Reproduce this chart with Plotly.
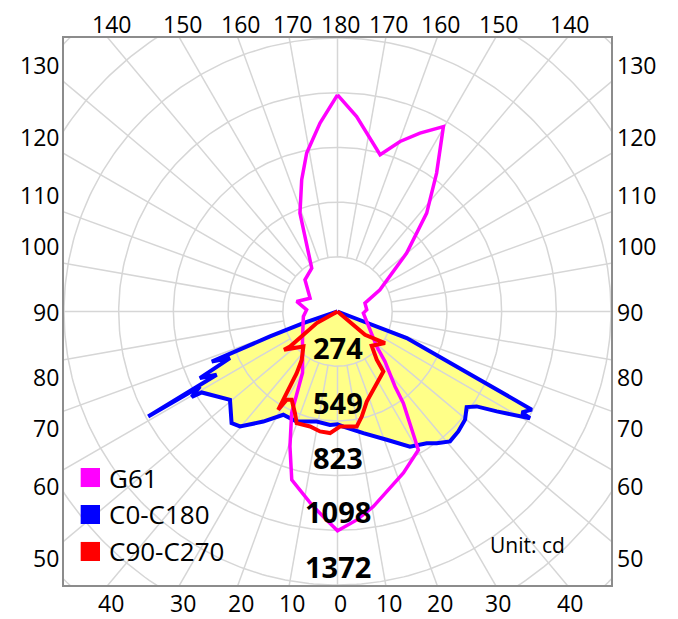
import numpy as np
import plotly.graph_objects as go

# Values.
# gamma angle in degrees: 0 = straight down, 180 = straight up, negative = left half
# intensity in cd
g61_deg = [-180, -174.7, -169.0, -164.8, -159.1, -154.6, -149.3, -134.3, -116, -103.8, -93.2,
           -81.7, -62.4, -51, -38.9, -29.7, -24.3, -19.4, -15.2, -7.1, 0,
           5.3, 10.4, 22.2, 30.3, 32.1, 35.7, 37.5, 43.5, 48.2, 60.6, 86.5, 93.3, 107, 117,
           130.2, 137.8, 144.4, 150.2, 155.2, 159.8, 164.8, 174.4, 180]
g61_cd = [1087, 949, 810, 685, 528, 361, 253, 228, 153, 211, 155,
          173, 198, 226, 279, 354, 559, 718, 875, 986, 1100,
          1050, 995, 875, 804, 701, 566, 474, 346, 264, 187, 130, 147, 144, 239,
          454, 666, 854, 1069, 986, 909, 815, 983, 1087]

c0c180_deg = [-90, -71.3, -69.7, -68.6, -68.3, -66.6, -64.2, -62.4, -61.0, -61.4, -59.6, -59.2,
              -50.6, -43.5, -40.3, -34.0, -30.1, -27.7, -20.4, -10.7, -3.8, 0,
              2.9, 12.0, 21.0, 28.2, 34.1, 37.0, 40.9, 45.2, 49.7, 53.5, 55.7, 57.9,
              61.0, 61.3, 63.2, 69.0, 90]
c0c180_cd = [0, 181, 361, 526, 679, 588, 767, 684, 1086, 786, 848, 793,
             698, 772, 756, 666, 609, 585, 589, 562, 570, 566,
             578, 624, 689, 769, 798, 827, 862, 854, 839, 806, 845, 943,
             1104, 1054, 1092, 372, 0]

c90c270_deg = [-90, -60.9, -53.6, -54.4, -44.3, -36.5, -33.5, -32.1, -31.1, -29.9, -27.4,
               -22.7, -20.1, -13.4, -8.3, -3.5, 1.2, 9.5, 13.0, 18.0, 24.6, 32.9, 37.4,
               39.1, 44.9, 56.4, 49.7, 90]
c90c270_cd = [0, 119, 296, 330, 245, 302, 371, 464, 576, 511, 499,
              553, 596, 593, 608, 611, 577, 585, 541, 475, 432, 392, 379,
              312, 243, 286, 181, 0]

ring_cd = [274, 549, 823, 1098, 1372]
top_ticks = [140, 150, 160, 170, 180, 170, 160, 150, 140]
bottom_ticks = [40, 30, 20, 10, 0, 10, 20, 30, 40]
side_ticks = [130, 120, 110, 100, 90, 80, 70, 60, 50]
legend_names = ["G61", "C0-C180", "C90-C270"]
legend_colors = ["#ff00ff", "#0000ff", "#ff0000"]

R = 1372            # frame half width in cd
STEP = R / 5        # ring spacing
GRID = "#d6d6d6"
FONT = "Open Sans"


def polar_xy(deg, cd):
    a = np.radians(np.asarray(deg, dtype=float))
    r = np.asarray(cd, dtype=float)
    return r * np.sin(a), -r * np.cos(a)


fig = go.Figure()

# yellow area under the C0-C180 curve (drawn first so the grid shows through)
bx, by = polar_xy(c0c180_deg, c0c180_cd)
fig.add_trace(go.Scatter(x=bx, y=by, mode="lines", fill="toself", fillcolor="#ffff88",
                         line=dict(width=0), hoverinfo="skip", showlegend=False))

# grid: rings and radial spokes
t = np.linspace(0, 2 * np.pi, 361)
gx, gy = [], []
for k in range(1, 8):
    gx += list(k * STEP * np.cos(t)) + [None]
    gy += list(k * STEP * np.sin(t)) + [None]
for a in range(0, 360, 10):
    ar = np.radians(a)
    gx += [STEP * np.sin(ar), 3000 * np.sin(ar), None]
    gy += [STEP * np.cos(ar), 3000 * np.cos(ar), None]
fig.add_trace(go.Scatter(x=gx, y=gy, mode="lines", line=dict(color=GRID, width=1.5),
                         hoverinfo="skip", showlegend=False))

for deg, cd, color, width, name in [
    (c0c180_deg, c0c180_cd, "#0000ff", 4, "C0-C180"),
    (g61_deg, g61_cd, "#ff00ff", 3.5, "G61"),
    (c90c270_deg, c90c270_cd, "#ff0000", 4, "C90-C270"),
]:
    x, y = polar_xy(deg, cd)
    fig.add_trace(go.Scatter(x=x, y=y, mode="lines", name=name,
                             line=dict(color=color, width=width), showlegend=False))

ann = []
tick_font = dict(family=FONT, size=23, color="black")
for i, v in enumerate(top_ticks):
    side = -1 if i < 4 else 1
    ann.append(dict(x=side * R * np.tan(np.radians(180 - v)), y=R, text=str(v),
                    xref="x", yref="y", xanchor="center", yanchor="middle",
                    xshift=3, yshift=14, borderpad=0, showarrow=False, font=tick_font))
for i, v in enumerate(bottom_ticks):
    side = -1 if i < 4 else 1
    ann.append(dict(x=side * R * np.tan(np.radians(v)), y=-R, text=str(v),
                    xref="x", yref="y", xanchor="center", yanchor="middle",
                    xshift=3, yshift=-18, borderpad=0, showarrow=False, font=tick_font))
for v in side_ticks:
    yv = R * np.tan(np.radians(v - 90))
    shift = 0 if v == 90 else (17 if v > 90 else -17)
    for xv, anchor, xs in [(-R, "right", -4), (R, "left", 5)]:
        ann.append(dict(x=xv, y=yv, text=str(v), xref="x", yref="y",
                        xanchor=anchor, yanchor="middle", xshift=xs, yshift=shift,
                        borderpad=0, showarrow=False, font=tick_font))

# intensity ring labels
for c in ring_cd:
    ann.append(dict(x=0, y=-c, text=str(c), xref="x", yref="y", yshift=18.5,
                    showarrow=False, font=dict(family=FONT, size=29, color="black", weight="bold")))

ann.append(dict(x=0.9196, y=0.0731, xref="paper", yref="paper", xanchor="right",
                yanchor="middle", text="Unit: cd", showarrow=False,
                font=dict(family=FONT, size=21, color="black")))

# legend: coloured squares with labels
shapes = []
for i, (name, color) in enumerate(zip(legend_names, legend_colors)):
    yc = 0.1965 - i * 0.0676
    shapes.append(dict(type="rect", xref="paper", yref="paper",
                       x0=0.0305, x1=0.0658, y0=yc - 0.0174, y1=yc + 0.0174,
                       fillcolor=color, line=dict(width=0)))
    ann.append(dict(x=0.0786, y=yc, xref="paper", yref="paper", xanchor="left",
                    yanchor="middle", text=name, showarrow=False,
                    font=dict(family=FONT, size=26, color="black")))

axis = dict(range=[-R, R], showgrid=False, zeroline=False, showticklabels=False,
            ticks="", showline=True, mirror=True, linecolor="#8c8c8c", linewidth=1.5,
            fixedrange=True)

# the page body adds an 8px margin, so the figure is 8px smaller than the window
fig.update_layout(
    width=670, height=611,
    margin=dict(l=56, r=67, t=30, b=34),
    paper_bgcolor="white", plot_bgcolor="white",
    xaxis=axis, yaxis=axis,
    annotations=ann, shapes=shapes,
    showlegend=False,
)

fig.write_html("out.html")
